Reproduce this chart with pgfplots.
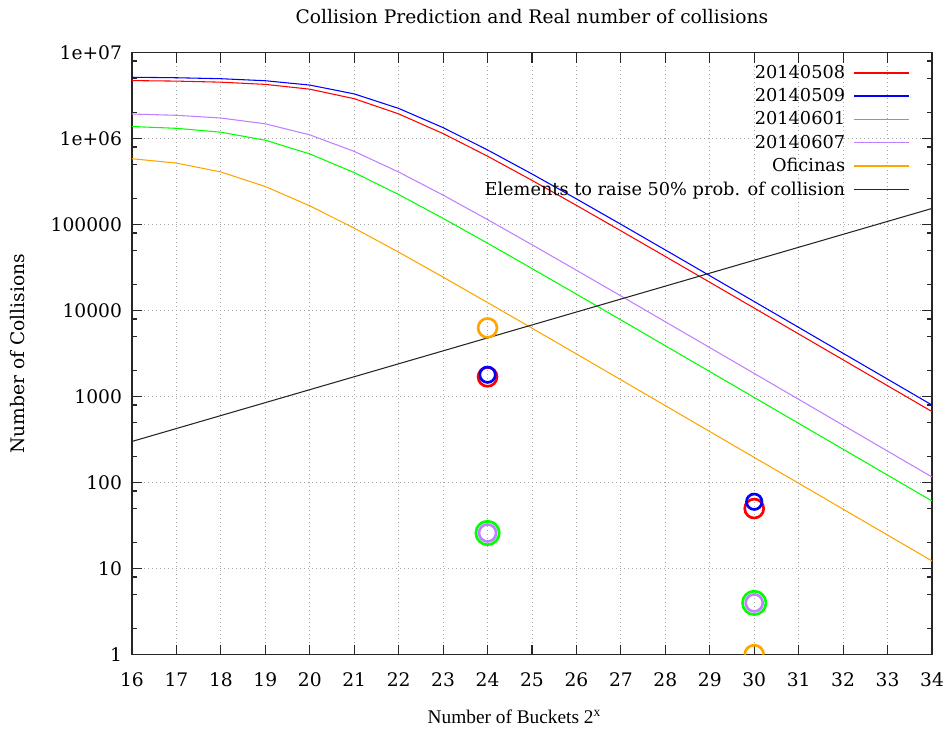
\documentclass[border=0pt]{standalone}
\usepackage{fontspec}
\setmainfont{DejaVu Serif}
\newfontfamily\xlabfont{Liberation Serif}
\usepackage{pgfplots}
\usepackage{pgfplotstable}
\pgfplotsset{compat=1.18}
\definecolor{cRed}{RGB}{255,0,0}
\definecolor{cBlue}{RGB}{0,0,255}
\definecolor{cGreen}{RGB}{0,255,0}
\definecolor{cPurple}{RGB}{192,128,255}
\definecolor{cOrange}{RGB}{255,165,0}

\pgfdeclareplotmark{upperhalfcircle}{%
  \pgfpathmoveto{\pgfqpoint{\pgfplotmarksize}{0pt}}%
  \pgfpatharc{0}{180}{\pgfplotmarksize}%
  \pgfusepathqstroke}

\pgfplotstableread{
x y
16 4734464
17 4668928
18 4537856
19 4275768
20 3762202
21 2915475
22 1941218
23 1144950
24 625572
25 327521
26 167642
27 84817
28 42661
29 21394
30 10713
31 5360
32 2681.2
33 1340.9
34 670.5
}\tRed
\pgfplotstableread{
x y
16 5174464
17 5108928
18 4977856
19 4715736
20 4198512
21 3315234
22 2248172
23 1343050
24 739360
25 388687
26 199354
27 100969
28 50810
29 25489
30 12765
31 6388
32 3195.2
33 1597.9
34 799.0
}\tBlue
\pgfplotstableread{
x y
16 1384464
17 1318930
18 1188894
19 958711
20 664481
21 403243
22 224089
23 118397
24 60892
25 30883
26 15553
27 7804
28 3909
29 1956.3
30 978.6
31 489.4
32 244.73
33 122.38
34 61.19
}\tGreen
\pgfplotstableread{
x y
16 1934464
17 1868928
18 1737984
19 1487270
20 1107111
21 710928
22 409285
23 220544
24 114583
25 58435
26 29508
27 14828
28 7432
29 3720.7
30 1861.5
31 931.0
32 465.6
33 232.8
34 116.4
}\tPurple
\pgfplotstableread{
x y
16 584467
17 519848
18 409822
19 277467
20 165563
21 91084
22 47863
23 24545
24 12431
25 6255
26 3138
27 1571.4
28 786.3
29 393.3
30 196.7
31 98.37
32 49.19
33 24.59
34 12.30
}\tOrange

\begin{document}
\begin{tikzpicture}
\begin{axis}[
  name=ax,
  scale only axis,
  width=600pt, height=451.5pt,
  xmin=16, xmax=34,
  ymode=log, ymin=1, ymax=1e7,
  xtick={16,...,34},
  ytick={1,10,100,1000,10000,100000,1000000,10000000},
  yticklabels={1,10,100,1000,10000,100000,1e+06,1e+07},
  minor ytick={2,5,8,20,50,80,200,500,800,2000,5000,8000,20000,50000,80000,200000,500000,800000,2000000,5000000,8000000},
  xtick pos=both, ytick pos=both,
  tick align=inside,
  major tick length=7.5pt, minor tick length=3.75pt,
  grid=major,
  major grid style={gray!70, line width=0.6pt, dash pattern=on 0.7pt off 2.3pt},
  axis line style={black!85, line width=0.8pt},
  tick style={black!85, line width=0.8pt},
  /pgf/number format/assume math mode=true,
  ticklabel style={font=\fontsize{14}{17}\selectfont},
  xticklabel style={yshift=-10pt},
  yticklabel style={xshift=-4pt},
  title={Collision Prediction and Real number of collisions},
  title style={at={(axis description cs:0.5,1.048)}, anchor=base, yshift=-6pt, font=\fontsize{14}{17}\selectfont},
  xlabel={\xlabfont Number of Buckets 2\textsuperscript{x}},
  xlabel style={at={(axis description cs:0.478,-0.1146)}, anchor=base, font=\fontsize{14.5}{17}\selectfont},
  ylabel={Number of Collisions},
  ylabel style={at={(axis description cs:-0.1425,0.5)}, anchor=center, font=\fontsize{14}{17}\selectfont},
  legend style={at={(axis description cs:0.9775,0.988)}, anchor=north east, draw=none, fill=none,
    font=\fontsize{13.3}{16}\selectfont, row sep=2pt},
  legend cell align=right,
  legend plot pos=right,
  legend image code/.code={\path (0pt,0pt); \draw[#1, line width=1.1pt] (4.5pt,0pt) -- (45.5pt,0pt);},
]
\addplot[cRed, line width=0.8pt] table[x=x,y=y] {\tRed};
\addlegendentry{20140508}
\addplot[cBlue, line width=0.8pt] table[x=x,y=y] {\tBlue};
\addlegendentry{20140509}
\addplot[cGreen, line width=0.8pt] table[x=x,y=y] {\tGreen};
\addlegendentry{20140601}
\addplot[cPurple, line width=0.8pt] table[x=x,y=y] {\tPurple};
\addlegendentry{20140607}
\addplot[cOrange, line width=0.8pt] table[x=x,y=y] {\tOrange};
\addlegendentry{Oficinas}
\addplot[black!85, line width=0.8pt] coordinates {(16,301.42) (34,154325)};
\addlegendentry{Elements to raise 50\% prob. of collision}

\addplot[forget plot, only marks, mark=o, mark size=7.1pt, cRed, mark options={line width=2pt}] coordinates {(24,1700) (30,50)};
\addplot[forget plot, only marks, mark=o, mark size=5.8pt, cBlue, mark options={line width=2pt}] coordinates {(24,1800) (30,60)};
\addplot[forget plot, only marks, mark=o, mark size=8.8pt, cGreen, mark options={line width=2pt}] coordinates {(24,26) (30,4)};
\addplot[forget plot, only marks, mark=o, mark size=6.4pt, cPurple, mark options={line width=2pt}] coordinates {(24,26) (30,4)};
\addplot[forget plot, only marks, mark=o, mark size=7.1pt, cOrange, mark options={line width=2pt}] coordinates {(24,6300)};
\addplot[forget plot, only marks, mark=upperhalfcircle, mark size=7.1pt, cOrange, mark options={line width=2pt}] coordinates {(30,1)};
\end{axis}
\path ([xshift=-99pt,yshift=-57pt]ax.south west) rectangle ([xshift=13.5pt,yshift=39.5pt]ax.north east);
\end{tikzpicture}
\end{document}
